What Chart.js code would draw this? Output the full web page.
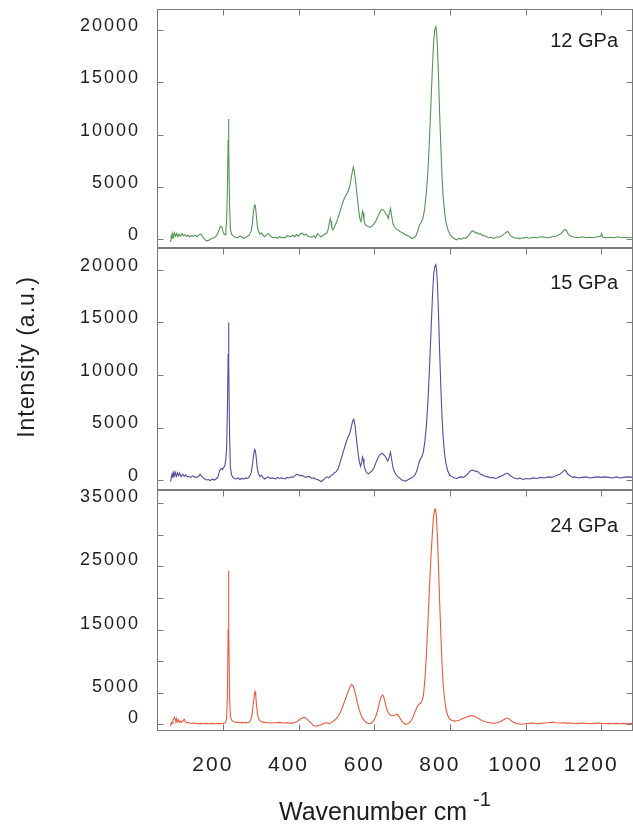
<!DOCTYPE html>
<html>
<head>
<meta charset="utf-8">
<script src="https://cdn.jsdelivr.net/npm/chart.js@4.4.1/dist/chart.umd.min.js"></script>
<style>
  body { margin: 0; background: #ffffff; }
  #wrap { position: relative; width: 633px; height: 830px; }
  canvas { position: absolute; left: 0; top: 0; }
</style>
</head>
<body>
<div id="wrap">
  <canvas id="panel12" width="633" height="830"></canvas>
  <canvas id="panel15" width="633" height="830"></canvas>
  <canvas id="panel24" width="633" height="830"></canvas>
</div>
<script>
const wavenumberMin = 26
const wavenumberMax = 1284
const wavenumberTicks = [200, 400, 600, 800, 1000, 1200]
const intensityTicks12 = [0, 5000, 10000, 15000, 20000]
const intensityTicks15 = [0, 5000, 10000, 15000, 20000]
const intensityTicks24 = [0, 5000, 10000, 15000, 20000, 25000, 30000, 35000]
const labelledTicks24 = [0, 5000, 15000, 25000, 35000]
const pressureLabels = ['12 GPa', '15 GPa', '24 GPa']

// [wavenumber, intensity]
const spectrum12 = [
  [62,-250],[64,400],[66,100],[68,500],[70,250],[72,600],[75,300],[78,550],[81,250],[84,500],
  [88,300],[92,550],[96,350],[100,450],[104,300],[108,400],[112,250],[117,350],[122,300],[127,400],
  [132,250],[137,450],[142,500],[147,250],[152,0],[157,-150],[162,-100],[167,0],[172,100],[177,150],
  [182,300],[186,500],[190,900],[194,1250],[197,1200],[200,800],[203,500],[206,450],[208,900],[210,1800],
  [212,4500],[214,9500],[215,11500],[216,8500],[218,3000],[220,1000],[223,500],[226,400],[230,250],[235,200],
  [240,150],[245,300],[250,250],[255,100],[260,150],[265,300],[270,400],[275,800],[278,1500],[281,2700],
  [284,3300],[286,3200],[288,2500],[291,1300],[294,800],[298,500],[302,600],[306,400],[310,250],[315,400],
  [320,550],[325,350],[330,200],[335,150],[340,200],[345,100],[350,250],[355,150],[360,200],[365,150],
  [370,350],[375,300],[380,250],[385,400],[390,250],[395,450],[400,300],[405,550],[410,600],[415,400],
  [420,500],[425,300],[430,250],[435,200],[440,350],[445,150],[450,550],[455,350],[460,250],[465,400],
  [470,500],[475,600],[478,900],[481,1500],[484,2000],[486,1700],[488,1100],[491,900],[495,1200],[500,1600],
  [505,2100],[510,2700],[515,3300],[520,3800],[525,4200],[530,4500],[535,5000],[540,6000],[543,6600],[545,6900],
  [547,6600],[550,5800],[553,4800],[556,3800],[559,2800],[562,2000],[565,1700],[567,2100],[569,2700],[571,2500],
  [573,1800],[576,1400],[580,1300],[585,1200],[590,1150],[595,1300],[600,1500],[605,1800],[610,2200],[615,2600],
  [620,2850],[623,2800],[627,2700],[631,2400],[634,2300],[637,2000],[640,2500],[643,2950],[646,2300],[649,1600],
  [653,1200],[658,1000],[663,900],[668,750],[673,650],[678,550],[684,400],[690,350],[695,200],[700,100],
  [705,150],[710,300],[715,800],[720,1400],[724,1600],[728,1900],[733,2800],[738,4500],[742,6500],[746,9500],
  [750,13000],[754,16500],[757,18800],[760,20000],[763,20300],[765,19800],[767,18500],[770,15500],[773,12000],[776,9000],
  [779,6200],[782,4200],[786,2600],[790,1600],[795,900],[800,500],[806,200],[812,50],[818,-50],[824,100],
  [830,0],[836,150],[842,100],[848,300],[852,500],[856,700],[860,800],[864,750],[868,600],[872,650],
  [876,500],[880,550],[885,400],[890,350],[895,300],[900,200],[905,150],[910,200],[915,100],[920,150],
  [925,250],[930,200],[935,300],[940,400],[945,550],[950,700],[953,750],[956,600],[960,350],[965,250],
  [970,150],[975,100],[980,150],[985,50],[990,150],[995,100],[1000,200],[1005,150],[1010,100],[1020,200],
  [1030,150],[1040,250],[1050,200],[1060,150],[1070,250],[1080,300],[1090,450],[1096,650],[1100,800],[1104,950],
  [1108,850],[1112,550],[1118,350],[1125,250],[1130,200],[1140,150],[1150,250],[1160,150],[1170,200],[1180,150],
  [1190,250],[1198,300],[1201,550],[1204,200],[1215,150],[1225,200],[1235,150],[1245,250],[1255,150],[1265,200],
  [1275,150],[1284,200]
]

const spectrum15 = [
  [62,-150],[64,300],[66,600],[68,200],[70,700],[72,400],[74,750],[77,350],[80,700],[83,400],
  [86,650],[90,300],[94,550],[98,350],[102,500],[106,300],[110,350],[115,250],[120,400],[125,300],
  [130,250],[135,300],[140,550],[143,400],[147,250],[152,100],[157,0],[162,50],[167,-50],[172,100],
  [177,0],[182,100],[187,300],[190,700],[193,1000],[196,1100],[199,1000],[202,1200],[205,1300],[208,2000],
  [210,3000],[212,6500],[214,12000],[215,15000],[216,11000],[218,4000],[220,1200],[223,500],[226,300],[230,150],
  [235,100],[240,200],[245,50],[250,150],[255,100],[260,200],[265,150],[270,300],[275,700],[278,1400],
  [281,2300],[284,2900],[286,2800],[288,2200],[291,1100],[294,600],[298,350],[302,450],[306,250],[310,100],
  [315,200],[320,300],[325,150],[330,200],[335,150],[340,100],[345,250],[350,150],[355,200],[360,150],
  [365,100],[370,250],[375,200],[380,300],[385,250],[390,400],[395,550],[400,500],[405,400],[410,450],
  [415,300],[420,250],[425,350],[430,300],[435,150],[440,200],[445,100],[450,50],[455,-50],[460,-150],
  [465,0],[470,150],[475,300],[480,200],[485,400],[490,500],[495,700],[500,800],[505,1100],[510,1700],
  [515,2300],[520,2900],[525,3500],[530,4000],[535,4400],[540,5100],[543,5600],[546,5800],[549,5300],[552,4300],
  [555,3300],[558,2400],[561,1700],[564,1300],[567,1700],[569,2200],[571,2000],[573,1400],[576,1000],[580,700],
  [585,600],[590,750],[595,900],[600,1200],[605,1700],[610,2100],[615,2400],[620,2550],[624,2450],[628,2300],
  [632,2100],[636,1800],[640,2200],[643,2650],[646,2000],[649,1300],[653,800],[658,500],[663,300],[668,150],
  [673,0],[678,-50],[683,-100],[688,0],[693,100],[698,200],[703,300],[708,500],[713,900],[718,1600],
  [722,2000],[726,2200],[730,2700],[734,3700],[738,5200],[742,7500],[746,10500],[750,14000],[754,17500],[757,19500],
  [760,20300],[763,20500],[765,20000],[767,18800],[770,15800],[773,12200],[776,9000],[779,6200],[782,4200],[786,2500],
  [790,1500],[795,800],[800,450],[806,300],[812,200],[818,150],[824,250],[830,300],[836,250],[842,400],
  [848,600],[852,800],[856,900],[860,950],[864,900],[868,800],[872,850],[876,700],[880,600],[885,500],
  [890,400],[895,350],[900,300],[905,250],[910,200],[915,250],[920,150],[925,200],[930,300],[935,350],
  [940,450],[945,550],[950,650],[953,650],[956,550],[960,400],[965,300],[970,200],[975,150],[980,100],
  [985,200],[990,100],[995,50],[1000,150],[1010,100],[1020,200],[1030,150],[1040,250],[1050,200],[1060,300],
  [1070,250],[1080,400],[1090,550],[1096,700],[1100,850],[1104,950],[1108,800],[1112,550],[1118,400],[1125,250],
  [1130,300],[1140,200],[1150,250],[1160,300],[1170,200],[1180,250],[1190,300],[1200,250],[1210,300],[1220,250],
  [1230,200],[1240,300],[1250,200],[1260,250],[1270,300],[1284,250]
]

const spectrum24 = [
  [62,-300],[64,300],[66,100],[68,600],[70,900],[72,1100],[74,800],[76,500],[78,900],[80,400],
  [83,700],[86,300],[89,500],[92,300],[95,600],[98,800],[101,400],[104,250],[108,300],[112,200],
  [118,150],[125,200],[132,100],[140,150],[148,100],[156,150],[164,100],[172,150],[180,100],[188,150],
  [195,100],[200,150],[205,200],[208,400],[210,1000],[212,4000],[214,15000],[215,24300],[216,15000],[218,4000],
  [220,1200],[223,700],[226,500],[230,400],[235,300],[240,350],[245,250],[250,300],[255,250],[260,300],
  [265,250],[270,350],[274,700],[277,1500],[280,3000],[283,4600],[285,5150],[287,4500],[289,3000],[292,1500],
  [295,800],[299,500],[305,350],[312,300],[320,250],[330,200],[340,250],[350,300],[360,200],[370,250],
  [380,150],[390,300],[395,400],[400,600],[405,850],[410,1050],[415,1100],[420,950],[425,700],[430,400],
  [435,100],[440,-200],[445,-300],[450,-250],[455,-150],[460,-50],[465,100],[470,200],[475,250],[478,150],
  [482,100],[488,300],[494,600],[500,900],[506,1400],[512,2100],[518,3000],[524,4000],[530,5000],[535,5800],
  [540,6300],[544,6100],[548,5400],[552,4400],[556,3300],[560,2400],[565,1500],[570,900],[575,500],[580,250],
  [585,150],[590,100],[595,300],[600,700],[605,1400],[610,2400],[614,3500],[618,4300],[622,4650],[625,4400],
  [628,3700],[632,2700],[636,2000],[640,1600],[645,1400],[650,1350],[655,1450],[660,1600],[664,1400],[668,1000],
  [673,500],[678,200],[683,0],[688,50],[693,250],[698,600],[703,1200],[708,2000],[713,2700],[718,3200],
  [722,3300],[726,3600],[730,4500],[734,7000],[738,11000],[742,16000],[746,21500],[750,26500],[754,30500],[757,33000],
  [760,34000],[762,34100],[764,33200],[767,30000],[770,25000],[773,19500],[776,14500],[779,10000],[782,6500],[786,4000],
  [790,2300],[795,1300],[800,800],[806,600],[812,500],[818,550],[824,650],[830,800],[836,950],[842,1100],
  [848,1250],[852,1300],[856,1350],[860,1350],[864,1300],[868,1200],[872,1050],[876,900],[880,750],[885,600],
  [890,500],[895,400],[900,300],[905,250],[910,200],[915,150],[920,200],[925,250],[930,350],[935,450],
  [940,650],[945,850],[950,1000],[953,1000],[956,900],[960,650],[965,450],[970,300],[975,150],[980,100],
  [985,50],[990,0],[995,50],[1000,100],[1010,150],[1020,200],[1030,100],[1040,150],[1050,200],[1060,250],
  [1070,300],[1075,350],[1080,250],[1090,200],[1100,250],[1110,150],[1120,200],[1130,100],[1140,150],[1150,200],
  [1160,150],[1170,100],[1180,150],[1190,200],[1200,150],[1210,100],[1220,150],[1230,100],[1240,150],[1250,100],
  [1260,150],[1270,100],[1284,150]
]

const fontFamily = '"Liberation Sans", Arial, sans-serif'
Chart.defaults.font.family = fontFamily

const framePlugin = {
    id: 'panelFrame',
    beforeDraw(chart) {
        chart.ctx.letterSpacing = '2px'
    },
    afterDraw(chart, args, opts) {
        const ctx = chart.ctx
        const a = chart.chartArea
        const left = Math.round(a.left) + 0.5
        const right = Math.round(a.right) - 0.5
        const top = Math.round(a.top) + 0.5
        const bottom = Math.round(a.bottom) - 0.5
        ctx.save()
        ctx.strokeStyle = '#7a7a7a'
        ctx.lineWidth = 1
        ctx.strokeRect(left, top, right - left, bottom - top)
        ctx.beginPath()
        wavenumberTicks.forEach((v) => {
            const px = Math.round(chart.scales.x.getPixelForValue(v)) + 0.5
            ctx.moveTo(px, top)
            ctx.lineTo(px, top + 6)
            if (opts.bottomTicks) {
                ctx.moveTo(px, bottom)
                ctx.lineTo(px, bottom - 6)
            }
        })
        opts.yTicks.forEach((v) => {
            const py = Math.round(chart.scales.y.getPixelForValue(v)) + 0.5
            ctx.moveTo(left, py)
            ctx.lineTo(left + 6, py)
            ctx.moveTo(right, py)
            ctx.lineTo(right - 6, py)
        })
        ctx.stroke()
        ctx.letterSpacing = '0px'
        ctx.fillStyle = '#1e1e1e'
        ctx.font = '20px ' + fontFamily
        ctx.textAlign = 'right'
        ctx.textBaseline = 'alphabetic'
        ctx.fillText(opts.label, a.right - 15, a.top + opts.labelDrop)
        ctx.restore()
    }
}

const yTitlePlugin = {
    id: 'yTitle',
    afterDraw(chart) {
        const ctx = chart.ctx
        ctx.save()
        ctx.letterSpacing = '1px'
        ctx.fillStyle = '#1e1e1e'
        ctx.font = '23px ' + fontFamily
        ctx.translate(28, 357)
        ctx.rotate(-Math.PI / 2)
        ctx.textAlign = 'center'
        ctx.textBaseline = 'middle'
        ctx.fillText('Intensity (a.u.)', 0, 0)
        ctx.restore()
    }
}

const xTitlePlugin = {
    id: 'xTitle',
    afterDraw(chart) {
        const ctx = chart.ctx
        ctx.save()
        ctx.letterSpacing = '0px'
        ctx.fillStyle = '#1e1e1e'
        ctx.textAlign = 'left'
        ctx.textBaseline = 'alphabetic'
        ctx.font = '25px ' + fontFamily
        const main = 'Wavenumber cm'
        ctx.fillText(main, 279, 820)
        const w = ctx.measureText(main).width
        ctx.font = '20px ' + fontFamily
        ctx.fillText('-1', 279 + w + 6, 806)
        ctx.restore()
    }
}

function buildPanel(canvasId, points, color, yMin, yMax, yTicks, yLabels, label, area, extraPlugins) {
    const ctx = document.getElementById(canvasId).getContext('2d')
    return new Chart(ctx, {
        type: 'line',
        data: {
            datasets: [
                {
                    data: points.map((p) => ({ x: p[0], y: p[1] })),
                    borderColor: color,
                    borderWidth: 1.1,
                    pointRadius: 0,
                    fill: false,
                    tension: 0,
                },
            ],
        },
        options: {
            responsive: false,
            animation: false,
            devicePixelRatio: 1,
            layout: { padding: { top: area.top, bottom: area.bottom, left: 0, right: 0 } },
            plugins: {
                legend: { display: false },
                tooltip: { enabled: false },
                panelFrame: { yTicks: yTicks, label: label, labelDrop: area.labelDrop, bottomTicks: area.showX },
            },
            scales: {
                x: {
                    type: 'linear',
                    min: wavenumberMin,
                    max: wavenumberMax,
                    display: area.showX,
                    afterBuildTicks: (s) => { s.ticks = wavenumberTicks.map((v) => ({ value: v })) },
                    afterFit: (s) => {
                        if (area.showX) s.height = 99
                        s.paddingLeft = 0
                        s.paddingRight = 0
                    },
                    grid: { display: false, drawTicks: false },
                    border: { display: false },
                    ticks: {
                        padding: 22,
                        labelOffset: -10,
                        color: '#1e1e1e',
                        font: { size: 21 },
                        maxRotation: 0,
                        autoSkip: false,
                        callback: (v) => String(v),
                    },
                },
                y: {
                    min: yMin,
                    max: yMax,
                    afterBuildTicks: (s) => { s.ticks = yTicks.map((v) => ({ value: v })) },
                    afterFit: (s) => {
                        s.width = 157
                        s.paddingTop = 0
                        s.paddingBottom = 0
                    },
                    grid: { display: false, drawTicks: false },
                    border: { display: false },
                    ticks: {
                        padding: 17,
                        labelOffset: area.labelShift,
                        color: '#1e1e1e',
                        font: { size: 18 },
                        autoSkip: false,
                        callback: (v) => (yLabels.includes(v) ? String(v) : ''),
                    },
                },
            },
        },
        plugins: [framePlugin].concat(extraPlugins),
    })
}

buildPanel('panel12', spectrum12, '#549654', -780, 22000, intensityTicks12, intensityTicks12, pressureLabels[0],
    { top: 9, bottom: 830 - 247.5, labelDrop: 38, labelShift: -4, showX: false }, [])
buildPanel('panel15', spectrum15, '#4e4ea2', -950, 22140, intensityTicks15, intensityTicks15, pressureLabels[1],
    { top: 247.5, bottom: 830 - 490, labelDrop: 41, labelShift: -4, showX: false }, [yTitlePlugin])
buildPanel('panel24', spectrum24, '#ec5a3e', -1060, 37100, intensityTicks24, labelledTicks24, pressureLabels[2],
    { top: 490, bottom: 0, labelDrop: 42, labelShift: -6, showX: true }, [xTitlePlugin])
</script>
</body>
</html>
